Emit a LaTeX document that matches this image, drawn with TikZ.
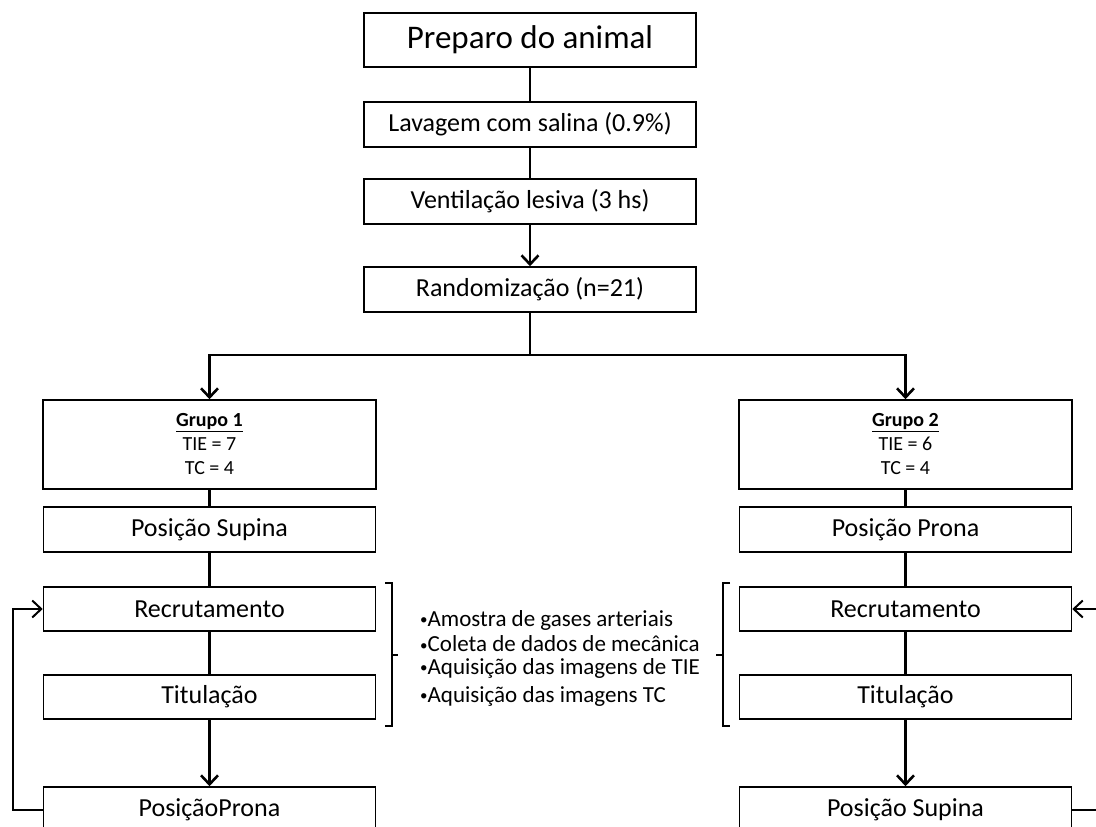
\documentclass[tikz,border=0pt]{standalone}
\usepackage{fontspec}
\setmainfont{Carlito}
\usetikzlibrary{arrows.meta}
\newcommand{\dotmark}{\raisebox{1.5pt}{\fontsize{15}{15}\selectfont •}}
\begin{document}
\begin{tikzpicture}[x=1pt, y=-1pt, >={Straight Barb[length=9pt, width=17pt]}]
    \useasboundingbox (0,0) rectangle (1096,827);
    \clip (0,0) rectangle (1096,827);

    % Define styles
    \tikzstyle{stage}=[rectangle, draw=black, line width=1.6pt, fill=white, minimum width=332pt, minimum height=45pt, inner sep=0pt, align=center, font=\fontsize{26}{30}\selectfont]
    \tikzstyle{group}=[stage, minimum width=333pt, minimum height=89pt, font=\fontsize{20}{24}\selectfont]
    \tikzstyle{link}=[line width=2.6pt]
    \tikzstyle{loop}=[line width=2pt]
    \tikzstyle{bullet}=[anchor=west, inner sep=0pt, font=\fontsize{23}{27}\selectfont]

    % main chain
    \node[stage, minimum height=54pt, font=\fontsize{33}{38}\selectfont] (prep) at (530,40) {Preparo do animal};
    \node[stage] (lav) at (530,124.5) {Lavagem com salina (0.9\%)};
    \node[stage] (vent) at (530,201.5) {Ventilação lesiva (3 hs)};
    \node[stage] (rand) at (530,289.5) {Randomização (n=21)};
    \coordinate (split) at (530,355);

    % group 1
    \node[group] (g1) at (209.5,444.5) {\textbf{\underline{Grupo 1}}\\TIE = 7\\TC = 4};
    \node[stage] (sup1) at (209.5,529.5) {Posição Supina};
    \node[stage, minimum height=44pt] (rec1) at (209.5,609) {Recrutamento};
    \node[stage, minimum height=44pt] (tit1) at (209.5,697) {Titulação};
    \node[stage] (pro1) at (209.5,809.5) {PosiçãoProna};
    \coordinate (loopL) at (13,809.5);

    % group 2
    \node[group] (g2) at (905.5,444.5) {\textbf{\underline{Grupo 2}}\\TIE = 6\\TC = 4};
    \node[stage] (pro2) at (905.5,529.5) {Posição Prona};
    \node[stage, minimum height=44pt] (rec2) at (905.5,609) {Recrutamento};
    \node[stage, minimum height=44pt] (tit2) at (905.5,697) {Titulação};
    \node[stage] (sup2) at (905.5,809.5) {Posição Supina};
    \coordinate (loopR) at (1120,809.5);

    % measurements
    \node[bullet] (m1) at (420,620) {\dotmark Amostra de gases arteriais};
    \node[bullet] (m2) at (420,644) {\dotmark Coleta de dados de mecânica};
    \node[bullet] (m3) at (420,668) {\dotmark Aquisição das imagens de TIE};
    \node[bullet] (m4) at (420,696) {\dotmark Aquisição das imagens TC};

    % brackets
    \draw[line width=1.6pt] (385,583) -- (392,583) -- (392,726) -- (385,726);
    \draw[line width=1.6pt] (392,655) -- (398,655);
    \draw[line width=1.6pt] (730,583) -- (723,583) -- (723,726) -- (730,726);
    \draw[line width=1.6pt] (723,655) -- (716,655);

    % connectors
    \draw[link] (prep) -- (lav);
    \draw[link] (lav) -- (vent);
    \draw[link, ->] (vent) -- (rand);
    \draw[link] (rand) -- (split);
    \draw[link, ->] (split) -| (g1);
    \draw[link, ->] (split) -| (g2);

    \draw[link] (g1) -- (sup1);
    \draw[link] (sup1) -- (rec1);
    \draw[link] (rec1) -- (tit1);
    \draw[link, ->] (tit1) -- (pro1);
    \draw[loop, ->] (pro1.west) -- (loopL) |- (rec1.west);

    \draw[link] (g2) -- (pro2);
    \draw[link] (pro2) -- (rec2);
    \draw[link] (rec2) -- (tit2);
    \draw[link, ->] (tit2) -- (sup2);
    \draw[loop, ->] (sup2.east) -- (loopR) |- (rec2.east);
\end{tikzpicture}
\end{document}
